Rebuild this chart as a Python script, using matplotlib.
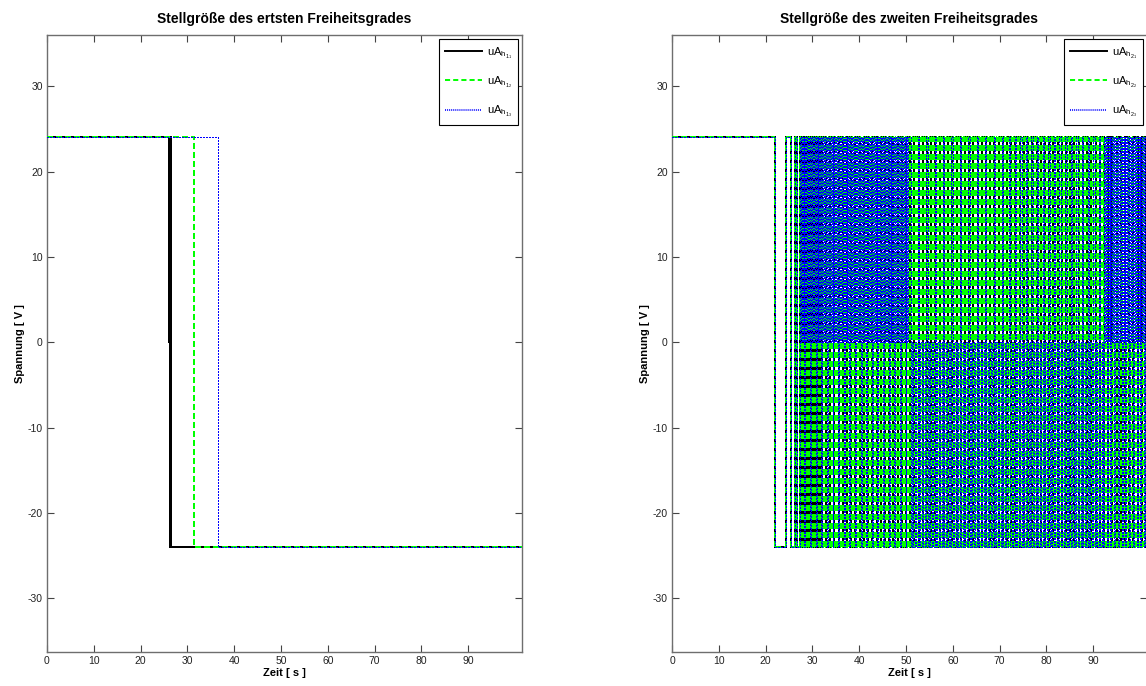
import numpy as np
import matplotlib
matplotlib.use('Agg')
import matplotlib.pyplot as plt
from matplotlib.lines import Line2D

plt.rcParams['font.family'] = ['Liberation Sans', 'DejaVu Sans']
plt.rcParams['mathtext.fontset'] = 'custom'
plt.rcParams['mathtext.rm'] = 'Liberation Sans'
plt.rcParams['mathtext.it'] = 'Liberation Sans'
plt.rcParams['axes.unicode_minus'] = False
plt.rcParams['lines.scale_dashes'] = False

# ---------------- data ----------------
t_end = 101.5
x_ticks = [0, 10, 20, 30, 40, 50, 60, 70, 80, 90]
y_ticks = [-30, -20, -10, 0, 10, 20, 30]

titles = ["Stellgröße des ertsten Freiheitsgrades",
          "Stellgröße des zweiten Freiheitsgrades"]
xlabel = "Zeit [ s ]"
ylabel = "Spannung [ V ]"
labels_left = [r'$\mathregular{uA_{h_{1_{1}}}}$', r'$\mathregular{uA_{h_{1_{2}}}}$', r'$\mathregular{uA_{h_{1_{3}}}}$']
labels_right = [r'$\mathregular{uA_{h_{2_{1}}}}$', r'$\mathregular{uA_{h_{2_{2}}}}$', r'$\mathregular{uA_{h_{2_{3}}}}$']

# left subplot: switching instants [s] and the level held from there on [V]
left_black_t = [0.0, 26.0, 26.15, 26.35, 26.45, 26.55]
left_black_u = [24, 0, 24, -24, 24, -24]
left_green_t = [0.0, 31.35]
left_green_u = [24, -24]
left_blue_t = [0.0, 36.6]
left_blue_u = [24, -24]

# right subplot: isolated early switches (same for all three outputs)
right_early_t = [0.0, 21.95, 24.3, 25.5, 26.2, 26.8]
right_early_u = [24, -24, 24, -24, 24, -24]
# chattering bands: (start, end, switching interval, level cycle)
black_bands = [(27.3, 32.0, 0.35, (24, -24)),
               (32.0, t_end, 0.9, (24, -24))]
green_bands = [(27.3, 92.3, 0.20, (24, -24)),
               (92.3, t_end, 0.20, (0, -24, 24, -24))]
blue_bands = [(27.3, 50.7, 0.20, (24, 0, 24, 0, 24, -24)),
              (50.7, 72.0, 0.30, (24, -24, 0, -24, 0, -24)),
              (72.0, 92.3, 0.30, (24, -24, 0, -24)),
              (92.3, t_end, 0.20, (24, 0, 24, -24))]


def step_series(t_sw, u_sw, bands=()):
    t = list(t_sw)
    u = list(u_sw)
    for (a, b, dt, levels) in bands:
        tt = np.arange(a, b, dt)
        t.extend(tt.tolist())
        u.extend([levels[i % len(levels)] for i in range(len(tt))])
    t.append(t_end)
    u.append(u[-1])
    return np.array(t), np.array(u)


def draw_steps_aligned(ax, t, u, color, ls, lw, z):
    # horizontal holds
    ax.hlines(u[:-1], t[:-1], t[1:], colors=color, linestyles=[ls], linewidths=lw,
              antialiaseds=False, zorder=z)
    # vertical switching edges (dash pattern always starts at the lower end)
    lo = np.minimum(u[:-2], u[1:-1])
    hi = np.maximum(u[:-2], u[1:-1])
    m = hi > lo
    ax.vlines(t[1:-1][m], lo[m], hi[m], colors=color, linestyles=[ls], linewidths=lw,
              antialiaseds=False, zorder=z)


def draw_steps_path(ax, t, u, color, ls, lw, z):
    ax.plot(t, u, drawstyle='steps-post', color=color, linestyle=ls, lw=lw,
            antialiased=False, zorder=z)


W, H = 1146, 686
fig = plt.figure(figsize=(W / 100, H / 100), dpi=100)
ax1 = fig.add_axes([47 / W, (H - 652) / H, 475 / W, 617 / H])
ax2 = fig.add_axes([672 / W, (H - 652) / H, 475 / W, 617 / H])

styles = [dict(color='black', ls='solid', lw=1.1),
          dict(color='#00ff00', ls=(0, (3.67, 2.22)), lw=1.1),
          dict(color='#0000ff', ls=(0, (0.74, 0.74)), lw=0.9)]

series_left = [step_series(left_black_t, left_black_u),
               step_series(left_green_t, left_green_u),
               step_series(left_blue_t, left_blue_u)]
series_right = [step_series(right_early_t, right_early_u, black_bands),
                step_series(right_early_t, right_early_u, green_bands),
                step_series(right_early_t, right_early_u, blue_bands)]

for k, ((t, u), st) in enumerate(zip(series_left, styles)):
    draw_steps_path(ax1, t, u, st['color'], st['ls'], st['lw'], 2 + k)

drawers = [draw_steps_path, draw_steps_aligned, draw_steps_path]
for k, ((t, u), st, fn) in enumerate(zip(series_right, styles, drawers)):
    fn(ax2, t, u, st['color'], st['ls'], st['lw'], 2 + k)

for ax, title, labs in [(ax1, titles[0], labels_left), (ax2, titles[1], labels_right)]:
    ax.set_xlim(0, t_end)
    ax.set_ylim(-36.3, 36.0)
    ax.set_xticks(x_ticks)
    ax.set_yticks(y_ticks)
    ax.tick_params(direction='in', top=True, right=True, length=5, width=0.8,
                   labelsize=7.5, colors='#444444', labelcolor='#222222', pad=3)
    for sp in ax.spines.values():
        sp.set_color('#6e6e6e')
        sp.set_linewidth(1.0)
    ax.set_title(title, fontsize=10, fontweight='bold', pad=9)
    ax.set_xlabel(xlabel, fontsize=8, fontweight='bold', labelpad=1)
    ax.set_ylabel(ylabel, fontsize=8, fontweight='bold', labelpad=2)
    handles = [Line2D([], [], color=st['color'], linestyle=st['ls'], lw=st['lw'] + 0.3,
                      antialiased=False) for st in styles]
    leg = ax.legend(handles, labs, loc='upper right', fontsize=8, frameon=True, fancybox=False,
                    handlelength=3.4, labelspacing=1.2, borderaxespad=0.4,
                    handletextpad=0.4, borderpad=0.5)
    leg.get_frame().set_edgecolor('black')
    leg.get_frame().set_linewidth(0.8)
    leg.get_frame().set_alpha(1)
    leg.set_zorder(10)

fig.savefig('out.png', dpi=100)
